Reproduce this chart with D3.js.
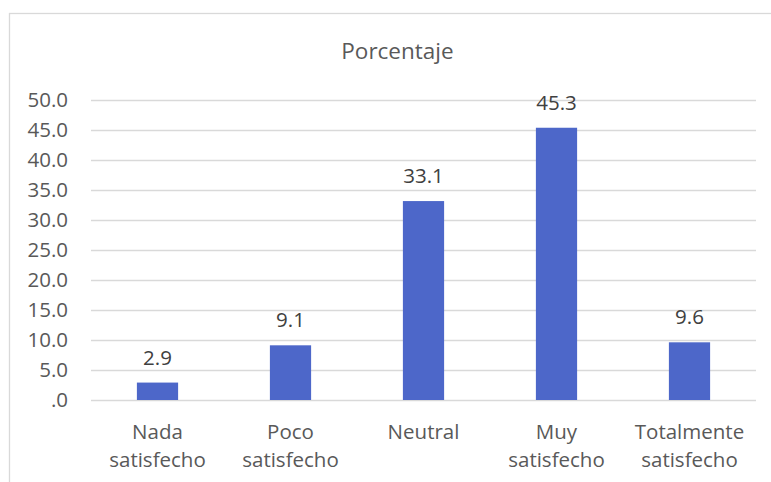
<!DOCTYPE html>
<html>
<head>
<meta charset="utf-8">
<script src="https://cdn.jsdelivr.net/npm/d3@7"></script>
<style>
html, body { margin: 0; padding: 0; background: #fff; }
svg { display: block; }
</style>
</head>
<body>
<svg id="chart" width="771" height="482"></svg>
<script>
const title = "Porcentaje";
const categories = [["Nada", "satisfecho"], ["Poco", "satisfecho"], ["Neutral"], ["Muy", "satisfecho"], ["Totalmente", "satisfecho"]];
const values = [2.9, 9.1, 33.1, 45.3, 9.6];
const yTicks = [0, 5, 10, 15, 20, 25, 30, 35, 40, 45, 50];

const svg = d3.select("#chart");
const font = "'Open Sans', 'Liberation Sans', sans-serif";
const textColor = "#595959";
const gridColor = "#d9d9d9";
const barColor = "#4D67C9";

const plot = { left: 91, right: 756, top: 99.5, bottom: 400 };

// chart border
svg.append("rect")
  .attr("x", 9.5).attr("y", 13.5)
  .attr("width", 800).attr("height", 500)
  .attr("fill", "none").attr("stroke", gridColor).attr("stroke-width", 1.3);

const x = d3.scaleBand()
  .domain(d3.range(categories.length))
  .range([plot.left, plot.right])
  .padding(0);

const y = d3.scaleLinear()
  .domain([0, 50])
  .range([plot.bottom, plot.top]);

// title
svg.append("text")
  .attr("x", 397.5).attr("y", 59)
  .attr("text-anchor", "middle")
  .attr("font-family", font).attr("font-size", 22.5)
  .attr("fill", textColor)
  .text(title);

// gridlines
svg.append("g").selectAll("line")
  .data(yTicks).join("line")
  .attr("x1", plot.left).attr("x2", plot.right)
  .attr("y1", d => Math.round(y(d)) + 0.5).attr("y2", d => Math.round(y(d)) + 0.5)
  .attr("stroke", gridColor).attr("stroke-width", 1.4);

// y axis labels
const fmt = d => d === 0 ? ".0" : d3.format(".1f")(d);
const yAxis = d3.axisLeft(y).tickValues(yTicks).tickFormat(fmt).tickSize(0).tickPadding(0);
const yg = svg.append("g").attr("transform", `translate(68,0)`).call(yAxis);
yg.select(".domain").remove();
yg.selectAll("text")
  .attr("font-family", font).attr("font-size", 20.5)
  .attr("fill", textColor);

// bars
const bw = x.bandwidth() * 0.31;
svg.append("g").selectAll("rect")
  .data(values).join("rect")
  .attr("x", (d, i) => x(i) + x.bandwidth() / 2 - bw / 2)
  .attr("width", bw)
  .attr("y", d => y(d))
  .attr("height", d => y(0) - y(d))
  .attr("fill", barColor);

// value labels
svg.append("g").selectAll("text")
  .data(values).join("text")
  .attr("x", (d, i) => x(i) + x.bandwidth() / 2)
  .attr("y", d => y(d) - 18)
  .attr("text-anchor", "middle")
  .attr("font-family", font).attr("font-size", 20.5)
  .attr("fill", "#404040")
  .text(d => d3.format(".1f")(d));

// category labels
const cg = svg.append("g").selectAll("text")
  .data(categories).join("text")
  .attr("x", (d, i) => x(i) + x.bandwidth() / 2)
  .attr("y", 439)
  .attr("text-anchor", "middle")
  .attr("font-family", font).attr("font-size", 20.5)
  .attr("fill", textColor);
cg.selectAll("tspan")
  .data(d => d).join("tspan")
  .attr("x", function () { return d3.select(this.parentNode).attr("x"); })
  .attr("dy", (d, i) => i === 0 ? 0 : 28)
  .text(d => d);
</script>
</body>
</html>
